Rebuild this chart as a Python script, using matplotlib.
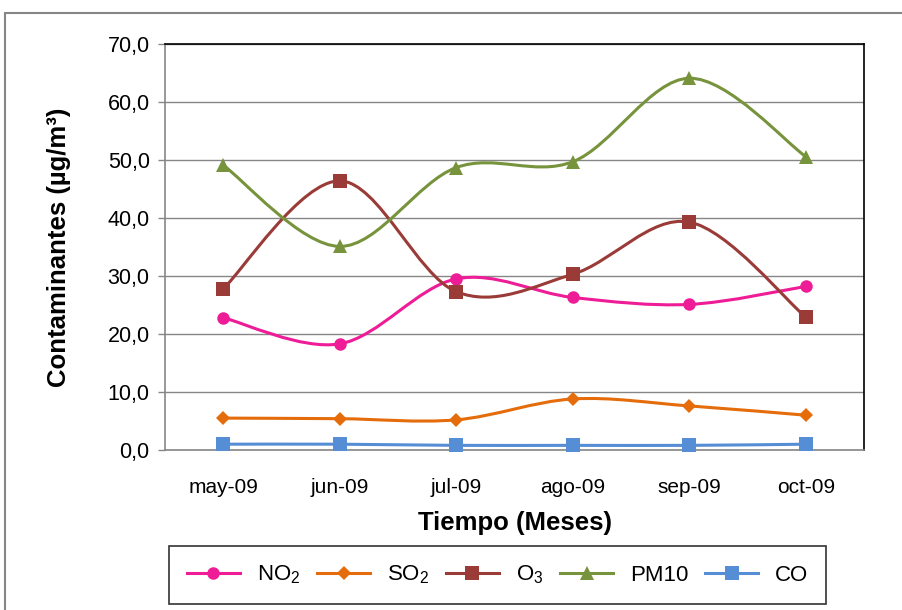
import matplotlib
matplotlib.use('Agg')
import matplotlib.pyplot as plt
import numpy as np
from matplotlib.path import Path
from matplotlib.patches import PathPatch, Rectangle
from matplotlib.lines import Line2D

plt.rcParams['font.family'] = ['Liberation Sans', 'DejaVu Sans']
plt.rcParams['mathtext.fontset'] = 'custom'
plt.rcParams['mathtext.rm'] = 'Liberation Sans'
plt.rcParams['mathtext.it'] = 'Liberation Sans'

#%% datos
meses = ['may-09', 'jun-09', 'jul-09', 'ago-09', 'sep-09', 'oct-09']
no2 = [22.8, 18.3, 29.5, 26.3, 25.1, 28.2]
so2 = [5.5, 5.4, 5.2, 8.8, 7.6, 6.0]
o3 = [27.8, 46.4, 27.3, 30.3, 39.3, 22.9]
pm10 = [49.1, 35.1, 48.7, 49.7, 64.1, 50.6]
co = [1.0, 1.0, 0.8, 0.8, 0.8, 1.0]

series = [
    (r'NO$_2$', no2, '#EE1C96', 'o', 9),
    (r'SO$_2$', so2, '#E46C0A', 'D', 7.5),
    (r'O$_3$', o3, '#9A3B38', 's', 10),
    ('PM10', pm10, '#77933C', '^', 10),
    ('CO', co, '#558ED5', 's', 10),
]

#%% curva suavizada estilo Excel (bezier catmull-rom)
def curva_suave(xs, ys):
    p = np.column_stack([xs, ys]).astype(float)
    ext = np.vstack([p[0], p, p[-1]])
    verts = [p[0]]
    codes = [Path.MOVETO]
    for i in range(len(p) - 1):
        p0, p1, p2, p3 = ext[i], ext[i + 1], ext[i + 2], ext[i + 3]
        c1 = p1 + (p2 - p0) / 6.0
        c2 = p2 - (p3 - p1) / 6.0
        verts += [c1, c2, p2]
        codes += [Path.CURVE4] * 3
    return Path(verts, codes)

fig = plt.figure(figsize=(9.02, 6.10), dpi=100)
ax = fig.add_axes([165 / 902, 1 - 450 / 610, (864 - 165) / 902, (450 - 44) / 610])

x = np.arange(len(meses))
handles = []
for nombre, vals, color, mk, ms in series:
    patch = PathPatch(curva_suave(x, vals), facecolor='none', edgecolor=color,
                      lw=2.2, zorder=3, capstyle='round', joinstyle='round')
    ax.add_patch(patch)
    ax.plot(x, vals, linestyle='none', marker=mk, color=color, markersize=ms,
            markeredgewidth=0, zorder=4, clip_on=False)
    handles.append(Line2D([0], [0], color=color, lw=2.2, marker=mk,
                          markersize=ms, markeredgewidth=0, label=nombre))

ax.set_xlim(-0.5, len(meses) - 0.5)
ax.set_ylim(0, 70)
ax.set_yticks(np.arange(0, 71, 10))
ax.set_yticklabels([f'{v:.1f}'.replace('.', ',') for v in np.arange(0, 71, 10)],
                   fontsize=15.5)
ax.set_xticks(x)
ax.set_xticklabels(meses, fontsize=15)
ax.tick_params(axis='x', length=0, pad=20)
ax.tick_params(axis='y', length=5, width=1, color='#868686', pad=6)
ax.grid(axis='y', color='#868686', lw=1)
ax.set_axisbelow(True)
for s in ['left', 'bottom']:
    ax.spines[s].set_color('#868686')
    ax.spines[s].set_linewidth(1.2)
for s in ['top', 'right']:
    ax.spines[s].set_color('black')
    ax.spines[s].set_linewidth(1.2)

ax.set_ylabel('Contaminantes (µg/m³)', fontsize=18.5, fontweight='bold', labelpad=26)
ax.set_xlabel('Tiempo (Meses)', fontsize=18.5, fontweight='bold', labelpad=10)

leg = fig.legend(handles=handles, loc='center', ncol=5,
                 bbox_to_anchor=((167 + 828) / 2 / 902, 1 - 575 / 610),
                 fontsize=16, frameon=True, fancybox=False, edgecolor='black',
                 handlelength=2.4, handletextpad=0.75, columnspacing=0.75,
                 borderpad=0.8)
leg.get_frame().set_linewidth(1.2)

# marco exterior del grafico
fig.patches.append(Rectangle((5 / 902, -0.1), 1.2, 1.1 - 13 / 610, transform=fig.transFigure,
                             facecolor='none', edgecolor='#868686', lw=1.5))

fig.savefig('out.png', dpi=100)
